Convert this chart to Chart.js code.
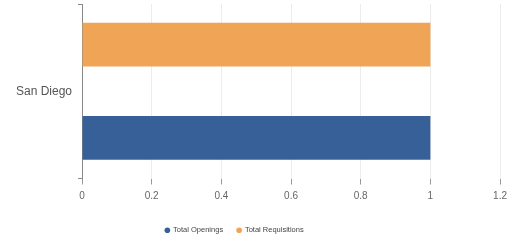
<!DOCTYPE html>
<html>
<head>
<meta charset="utf-8">
<script src="https://cdn.jsdelivr.net/npm/chart.js@4/dist/chart.umd.min.js"></script>
<style>
  html, body { margin: 0; padding: 0; background: #fff; }
  #wrap { width: 513px; height: 240px; }
</style>
</head>
<body>
<div id="wrap"><canvas id="cityBarChart"></canvas></div>
<script>
const cities = ['San Diego'];
const totalOpenings = [1];
const totalRequisitions = [1];

const ctx = document.getElementById('cityBarChart').getContext('2d');

const cityData = {
    labels: cities,
    datasets: [{
        label: 'Total Requisitions',
        data: totalRequisitions,
        backgroundColor: '#F0A455',
        borderWidth: 0
    }, {
        label: 'Total Openings',
        data: totalOpenings,
        backgroundColor: '#386098',
        borderWidth: 0
    }]
};

// legend sits a bit left of centre and lower in the original
const shiftLegend = {
    id: 'shiftLegend',
    afterLayout(chart) {
        chart.legend.left -= 22;
        chart.legend.right -= 22;
        chart.legend.top += 4;
        chart.legend.bottom += 4;
    }
};

const config = {
    type: 'bar',
    data: cityData,
    plugins: [shiftLegend],
    options: {
        indexAxis: 'y',
        responsive: true,
        maintainAspectRatio: false,
        animation: false,
        categoryPercentage: 1.07,
        barPercentage: 0.47,
        layout: { padding: { left: 10, right: 10, top: 0, bottom: 0 } },
        plugins: {
            legend: {
                position: 'bottom',
                reverse: true,
                labels: {
                    usePointStyle: true,
                    pointStyle: 'circle',
                    boxWidth: 4,
                    boxHeight: 4,
                    padding: 14,
                    color: '#444',
                    font: { family: 'Liberation Sans, Arial, sans-serif', size: 7.5 }
                }
            },
            tooltip: { enabled: false }
        },
        scales: {
            x: {
                min: 0,
                max: 1.2,
                ticks: {
                    stepSize: 0.2,
                    color: '#666',
                    padding: 6,
                    font: { family: 'Liberation Sans, Arial, sans-serif', size: 10 },
                    callback: (value) => String(Number(value.toFixed(1)))
                },
                grid: {
                    color: '#ececec',
                    tickColor: '#999',
                    tickLength: 6
                },
                border: { display: false }
            },
            y: {
                afterFit: (scale) => {
                    scale.paddingTop = 4;
                    scale.paddingBottom = 4;
                },
                ticks: {
                    color: '#555',
                    padding: 6,
                    font: { family: 'Liberation Sans, Arial, sans-serif', size: 12 }
                },
                grid: {
                    drawOnChartArea: false,
                    color: '#888',
                    tickLength: 4
                },
                border: { display: true, color: '#888' }
            }
        }
    }
};

const cityBarChart = new Chart(ctx, config);
</script>
</body>
</html>
